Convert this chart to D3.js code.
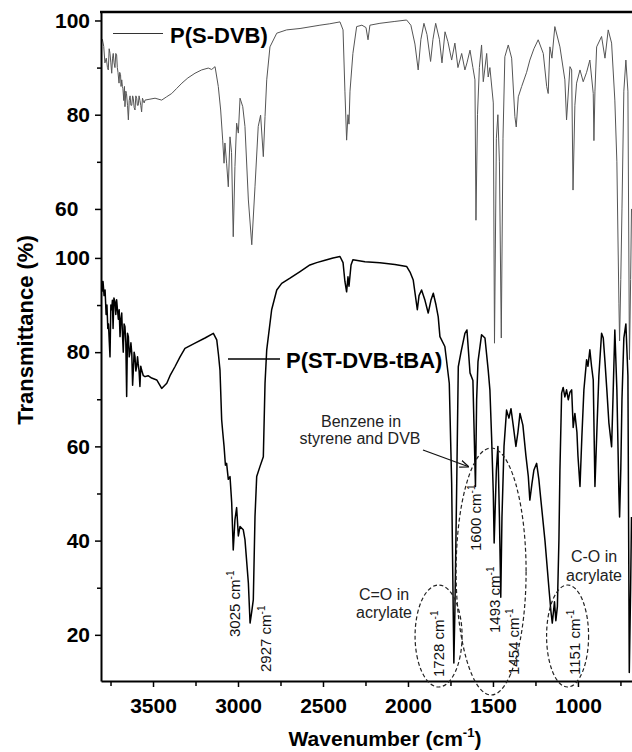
<!DOCTYPE html>
<html><head><meta charset="utf-8">
<script src="https://cdn.jsdelivr.net/npm/d3@7"></script>
<style>
body{margin:0;background:#fff}
svg{display:block}
text{font-family:"Liberation Sans",Arial,Helvetica,sans-serif}
</style>
</head><body>
<svg id="chart" width="632" height="752"></svg>
<script>
// ---------------- data ----------------
const seriesNames = ["P(S-DVB)", "P(ST-DVB-tBA)"];

const topWavenumber = [3805,3798,3790,3783,3775,3768,3763,3758,3753,3748,3743,3738,3734,3729,3724,3719,3714,3710,3706,3700,3696,3691,3688,3684,3680,3677,3672,3668,3665,3660,3656,3650,3645,3640,3635,3630,3625,3620,3616,3611,3606,3601,3596,3592,3587,3582,3577,3572,3567,3562,3557,3552,3547,3518,3488,3449,3420,3390,3360,3330,3295,3253,3214,3175,3155,3135,3116,3102,3090,3082,3077,3067,3057,3047,3038,3028,3018,3008,2998,2988,2972,2959,2939,2919,2900,2881,2867,2851,2841,2831,2812,2772,2714,2635,2518,2460,2400,2382,2371,2361,2353,2347,2341,2324,2302,2271,2247,2235,2224,2165,2077,2008,1983,1959,1940,1924,1906,1888,1867,1853,1837,1815,1800,1782,1765,1743,1724,1706,1684,1665,1653,1635,1618,1606,1600,1591,1580,1567,1557,1537,1528,1518,1498,1491,1480,1471,1462,1451,1441,1430,1410,1390,1371,1363,1351,1331,1302,1283,1259,1234,1204,1184,1175,1165,1153,1136,1106,1077,1067,1047,1037,1029,1018,1008,988,969,949,930,910,906,900,890,861,841,822,802,783,771,759,755,748,741,730,718,706,697,690,685];
const topTransmittance = [95.5,96,94.5,91,92,90,89.5,94,93,91,88.8,92,93,91,90,93,92.7,90,89,86.7,89,88.5,86,87.4,86,85.5,83,86,81.7,85,84.5,82,78.9,83,84,82,82,84,83.5,81.5,81,84,83.5,82,82,84,83,82,80.6,83.5,83,82.5,83.1,83.3,83.5,83.1,83.8,84.5,85.6,86.7,87.8,88.8,89.5,89.9,89.6,90.2,86,81,74.6,69.7,74,69.7,64.7,75.3,72,54.1,69,78.2,76.1,83.5,81.7,77.5,61.9,52.4,64.7,77.5,79.9,71.1,79.6,87.4,94.4,97.3,98,98.3,99,99.3,99.7,98,85,74.6,80,78,85,93,98.7,99,98.5,95.9,99,99.4,99.8,100.1,99,95,89.5,96,99.4,97,91.3,96,99.4,96,91,97.6,95.5,91.6,95.2,90,93,89.5,91,93.7,90,87.4,57.6,80,90,94.8,87,93,88,90,82.5,31.5,75,80,70,32.6,75,92.3,94.8,92,79.6,77.4,83.8,86,89,91.6,94,95.9,93,86,84.5,94.4,92,98.7,94.4,87.4,78.9,90.2,89.5,64,82,86.7,89.5,87,89,91.6,84.5,74.5,85,94.4,96.6,92,98,95.2,83.1,70,40,32,45,60,85,91.6,85,28,45,60];

const bottomWavenumber = [3805,3800,3797,3794,3788,3782,3776,3771,3766,3762,3757,3753,3748,3743,3739,3735,3730,3724,3719,3714,3709,3704,3699,3694,3689,3684,3680,3675,3670,3665,3660,3655,3650,3645,3640,3635,3630,3625,3620,3616,3611,3606,3601,3596,3591,3587,3582,3577,3572,3567,3557,3547,3529,3508,3478,3449,3419,3400,3371,3341,3312,3253,3194,3145,3125,3115,3106,3096,3090,3082,3074,3067,3057,3047,3037,3028,3018,3008,2998,2988,2969,2959,2939,2929,2920,2910,2900,2890,2871,2851,2841,2831,2802,2772,2743,2694,2635,2577,2537,2488,2441,2400,2382,2371,2361,2353,2347,2335,2324,2253,2165,2077,2008,1988,1969,1945,1935,1920,1900,1881,1865,1851,1835,1822,1812,1783,1757,1743,1730,1724,1714,1704,1688,1665,1653,1635,1618,1603,1596,1588,1567,1547,1528,1518,1508,1498,1493,1480,1471,1462,1454,1447,1435,1420,1406,1394,1381,1365,1353,1341,1324,1306,1292,1283,1271,1259,1243,1230,1218,1194,1171,1159,1151,1138,1130,1121,1112,1106,1096,1087,1077,1067,1057,1047,1037,1028,1018,1006,1000,988,977,965,949,941,930,920,910,900,888,877,861,851,841,830,818,802,794,783,771,759,755,748,741,730,718,706,698,690,685];
const bottomTransmittance = [94.6,95,93,95,92,93.2,88,90,85,86,82,79,90,89,91,85,91.5,90.7,88,91.1,89,87,89,83.3,87,88.3,84,80,86,85.4,82,70.6,84,83.3,79,80,82,79.8,73,76,80,79,76,77,79,77.5,76,72.7,77,76.2,75,74.8,75,74.5,74.1,72.3,73.4,75,76.9,79,80.8,81.9,83,84,82.6,79.5,76.2,65.6,63.1,60,56,56.4,53,53.6,48,38,44.4,47,41,43,42.3,40.2,31,22.5,24.7,27.4,45.1,53.6,55.7,57.8,73.4,80.5,89,93.2,94.6,95.7,97.1,98.5,99,99.5,100,100.3,99,95,92.8,96,94,98.5,99.6,99.2,99,98.6,98.2,97,95.3,89,92,93.2,91,88.3,91,92.5,90,87.5,83.3,81.2,73.4,52.2,14,25,50,76.9,80,84,84.7,75.6,74,51.5,70,78,83.7,83,76.2,72,62,50,39.5,55,60,45,28,45,60,67.7,66,68,64.5,60,63,67,64.5,58,53.6,48.6,52,55,56.4,53,48.6,40,30,25,22.5,27,23,26,40,55,71.3,72.5,70.5,72,69.9,71.5,72,64,67,63,58,51.5,62,72,78.4,77,80.5,77,74.1,51.5,64,75,84,83,78,72,65,59.9,70,84.7,72,50,45,55,70,83,86,75,12,30,45];

const xTickValues = [3500, 3000, 2500, 2000, 1500, 1000];
const xMinorTicks = [3750, 3250, 2750, 2250, 1750, 1250, 750];
const topYTicks = [60, 80, 100];
const topYTickLabels = ["60\u00a0\u00a0", "80", "100"];
const topYMinor = [70, 90];
const bottomYTicks = [20, 40, 60, 80, 100];
const bottomYMinor = [30, 50, 70, 90];

const peakLabelValues = [3025, 2927, 1728, 1600, 1493, 1454, 1151];
const xTitle = "Wavenumber (cm";
const yTitle = "Transmittance (%)";

// ---------------- layout ----------------
const plot = {left: 101, right: 632, top: 12, bottom: 681};
const topOffset = 50.4;      // vertical offset of the upper spectrum
const fontFam = '"Liberation Sans",Arial,Helvetica,sans-serif';

const x = d3.scaleLinear().domain([3806, 682]).range([plot.left, plot.right]);
const y = d3.scaleLinear().domain([10.2, 152.2]).range([plot.bottom, plot.top]);

const svg = d3.select("#chart");

svg.append("defs").append("clipPath").attr("id", "clip")
  .append("rect").attr("x", plot.left).attr("y", plot.top)
  .attr("width", plot.right - plot.left).attr("height", plot.bottom - plot.top);

// spectra
const topData = topWavenumber.map((w, i) => ({w, t: topTransmittance[i] + topOffset}));
const bottomData = bottomWavenumber.map((w, i) => ({w, t: bottomTransmittance[i]}));
const line = d3.line().x(d => x(d.w)).y(d => y(d.t));

const g = svg.append("g").attr("clip-path", "url(#clip)");
g.append("path").datum(bottomData).attr("d", line)
  .attr("fill", "none").attr("stroke", "#000").attr("stroke-width", 1.5)
  .attr("stroke-linejoin", "round");
g.append("path").datum(topData).attr("d", line)
  .attr("fill", "none").attr("stroke", "#555").attr("stroke-width", 1)
  .attr("stroke-linejoin", "round");

// axes
svg.append("g").attr("transform", `translate(0,${plot.bottom})`)
  .call(d3.axisBottom(x).tickValues(xTickValues).tickSize(6).tickSizeOuter(0).tickPadding(11)
    .tickFormat(d3.format("d")));
svg.append("g").attr("transform", `translate(0,${plot.bottom})`)
  .call(d3.axisBottom(x).tickValues(xMinorTicks).tickSize(5).tickSizeOuter(0).tickFormat(""))
  .select(".domain").remove();

const yMajor = bottomYTicks.concat(topYTicks.map(v => v + topOffset));
const yLabels = bottomYTicks.map(String).concat(topYTickLabels);
svg.append("g").attr("transform", `translate(${plot.left},0)`)
  .call(d3.axisLeft(y).tickValues(yMajor).tickSize(6).tickSizeOuter(0).tickPadding(5)
    .tickFormat((d, i) => yLabels[i]));
const yMinor = bottomYMinor.concat(topYMinor.map(v => v + topOffset));
svg.append("g").attr("transform", `translate(${plot.left},0)`)
  .call(d3.axisLeft(y).tickValues(yMinor).tickSize(4).tickSizeOuter(0).tickFormat(""))
  .select(".domain").remove();

svg.selectAll(".domain").attr("stroke", "#000").attr("stroke-width", 2);
svg.selectAll(".tick line").attr("stroke", "#000").attr("stroke-width", 1.5);
svg.selectAll(".tick text").attr("font-family", fontFam).attr("font-size", 21)
  .attr("font-weight", "bold").attr("fill", "#000").style("white-space", "pre");

// top frame line
svg.append("line").attr("x1", plot.left - 1).attr("x2", plot.right)
  .attr("y1", plot.top).attr("y2", plot.top).attr("stroke", "#000").attr("stroke-width", 2.5);

// axis titles
const xt = svg.append("text").attr("x", 385).attr("y", 746).attr("text-anchor", "middle")
  .attr("font-size", 21).attr("font-weight", "bold").attr("fill", "#000");
xt.append("tspan").text(xTitle);
xt.append("tspan").attr("font-size", 13).attr("dy", -9).text("-1");
xt.append("tspan").attr("dy", 9).text(")");

svg.append("text").attr("transform", "translate(33,330) rotate(-90)")
  .attr("text-anchor", "middle").attr("font-size", 22).attr("font-weight", "bold")
  .attr("fill", "#000").text(yTitle);

// series labels
svg.append("line").attr("x1", 113).attr("x2", 163).attr("y1", 33.5).attr("y2", 33.5)
  .attr("stroke", "#333").attr("stroke-width", 1.2);
svg.append("text").attr("x", 170).attr("y", 43).attr("font-size", 22).attr("font-weight", "bold")
  .attr("fill", "#000").text(seriesNames[0]);
svg.append("line").attr("x1", 228).attr("x2", 280).attr("y1", 359).attr("y2", 359)
  .attr("stroke", "#000").attr("stroke-width", 1.6);
svg.append("text").attr("x", 286).attr("y", 368).attr("font-size", 22).attr("font-weight", "bold")
  .attr("fill", "#000").text(seriesNames[1]);

// rotated peak labels (offset from each peak position, bottom-start y)
const peakLayout = [[6, 637], [20.5, 672], [-10, 677], [5, 551], [6, 633], [18, 675], [28, 675]];
peakLabelValues.forEach((p, i) => {
  const [dx, yb] = peakLayout[i];
  const t = svg.append("text")
    .attr("transform", `translate(${x(p) + dx},${yb}) rotate(-90)`)
    .attr("font-size", 15).attr("fill", "#111");
  t.append("tspan").text(p + " cm");
  t.append("tspan").attr("font-size", 10).attr("dy", -6).text("-1");
});

// horizontal annotations
const notes = [
  ["Benzene in", 361, 427], ["styrene and DVB", 360, 444],
  ["C=O in", 384, 600], ["acrylate", 384, 618],
  ["C-O in", 594, 562], ["acrylate", 594, 581]
];
notes.forEach(([s, nx, ny]) => svg.append("text").attr("x", nx).attr("y", ny)
  .attr("text-anchor", "middle").attr("font-size", 16).attr("fill", "#222").text(s));

// arrow
svg.select("defs").append("marker").attr("id", "arr").attr("viewBox", "0 0 10 10")
  .attr("refX", 9).attr("refY", 5).attr("markerWidth", 9).attr("markerHeight", 9)
  .attr("orient", "auto").attr("markerUnits", "userSpaceOnUse")
  .append("path").attr("d", "M0,1 L10,5 L0,9").attr("fill", "none").attr("stroke", "#111").attr("stroke-width", 1.5);
svg.append("line").attr("x1", 423).attr("y1", 450).attr("x2", 468).attr("y2", 466.5)
  .attr("stroke", "#111").attr("stroke-width", 1.3).attr("marker-end", "url(#arr)");

// dashed ellipses
const ellipses = [[1820, 636, 23.5, 51], [1511, 571.5, 35, 123.5], [1061, 636, 21, 51]];
ellipses.forEach(([wc, cy, rx, ry]) => svg.append("ellipse")
  .attr("cx", x(wc)).attr("cy", cy).attr("rx", rx).attr("ry", ry)
  .attr("fill", "none").attr("stroke", "#222").attr("stroke-width", 1.2)
  .attr("stroke-dasharray", "4,2.5"));
</script>
</body></html>
